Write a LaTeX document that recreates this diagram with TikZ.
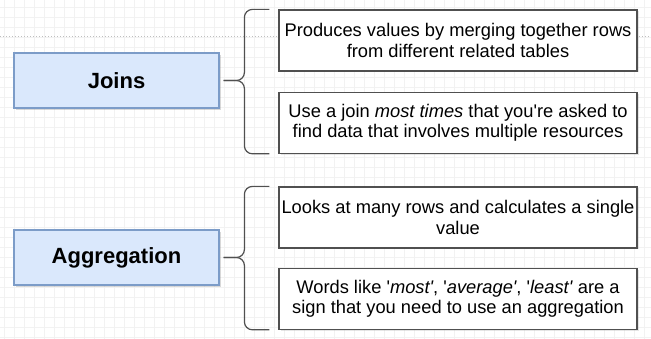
\documentclass[tikz,border=0pt]{standalone}
\usepackage{fontspec}
\setmainfont{Liberation Sans}
\usetikzlibrary{positioning,shadows}

\definecolor{topicfill}{HTML}{DAE8FC}
\definecolor{topicline}{HTML}{7C9CC8}
\definecolor{gridline}{HTML}{F2F2F2}
\definecolor{boxline}{HTML}{505050}
\newcommand\sq{\textquotesingle}

\begin{document}
\begin{tikzpicture}[x=1pt,y=-1pt]
\tikzstyle{topic}=[draw=topicline,fill=topicfill,line width=1.2pt,
  minimum width=205pt,minimum height=55pt,
  font=\fontsize{22}{25}\selectfont\bfseries,
  drop shadow={shadow xshift=2pt,shadow yshift=-2pt,opacity=.3}];
\tikzstyle{note}=[draw=boxline,fill=white,line width=1.2pt,
  minimum width=358pt,minimum height=61pt,inner sep=2pt,align=center,
  font=\fontsize{18.3}{20.5}\selectfont,
  drop shadow={shadow xshift=1.5pt,shadow yshift=-1.5pt,opacity=.2}];
\tikzstyle{brace}=[draw=boxline,line width=1.2pt,rounded corners=8pt];

% page and grid
\fill[white] (0,0) rectangle (651,339);
\useasboundingbox (0,0) rectangle (651,339);
\foreach \x in {4,14,...,644} \draw[gridline] (\x,0) -- (\x,339);
\foreach \y in {7,17,...,337} \draw[gridline] (0,\y) -- (651,\y);
\draw[black!25,dotted,line width=1pt] (0,37) -- (651,37);

% joins
\node[topic] (joins) at (116.5,80.5) {Joins};
\node[note] (merge) at (458,40.5) {Produces values by merging together rows\\from different related tables};
\node[note] (usejoin) [below=20pt of merge] {Use a join \textit{most times} that you\sq re asked to\\find data that involves multiple resources};

% aggregation
\node[topic] (aggr) at (116.5,257.5) {Aggregation};
\node[note] (rows) at (458,217.5) {Looks at many rows and calculates a single\\value};
\node[note] (words) [below=19pt of rows] {Words like \sq\textit{most\sq}, \sq\textit{average\sq}, \sq\textit{least\sq} are a\\sign that you need to use an aggregation};

% curly brackets
\path ([xshift=-34pt]merge.west) coordinate (jbar);
\draw[brace] ([xshift=-9pt]merge.north west) -| (jbar |- joins.east) -- ([xshift=4pt]joins.east);
\draw[brace] ([xshift=-9pt]usejoin.south west) -| (jbar |- joins.east) -- ([xshift=4pt]joins.east);
\path ([xshift=-34pt]rows.west) coordinate (abar);
\draw[brace] ([xshift=-9pt]rows.north west) -| (abar |- aggr.east) -- ([xshift=4pt]aggr.east);
\draw[brace] ([xshift=-9pt]words.south west) -| (abar |- aggr.east) -- ([xshift=4pt]aggr.east);
\end{tikzpicture}
\end{document}
